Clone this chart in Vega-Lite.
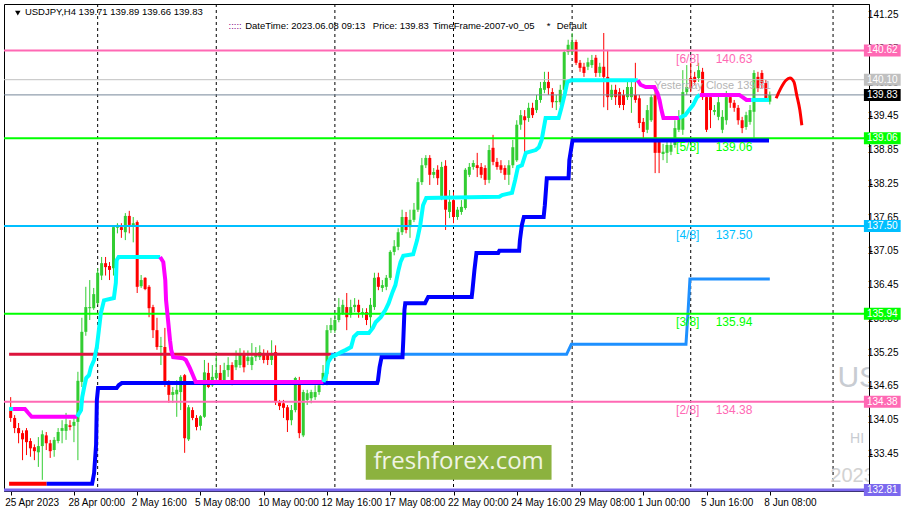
{
"$schema": "https://vega.github.io/schema/vega-lite/v6.json",
"width": 865, "height": 487,
"autosize": {"type": "none"},
"padding": {"left": 4, "top": 4, "right": 42, "bottom": 24},
"background": "white",
"config": {"view": {"stroke": "black", "strokeWidth": 1}, "font": "Liberation Sans", "legend": {"disable": true}, "axis": {"labelOverlap": false}},
"resolve": {"scale": {"color": "independent"}},
"datasets": {
"grid": [{"b":22},{"b":52},{"b":82},{"b":112},{"b":142},{"b":172},{"b":208}],
"yticks": [{"v":133.45},{"v":134.05},{"v":134.65},{"v":135.25},{"v":135.85},{"v":136.45},{"v":137.05},{"v":137.65},{"v":138.25},{"v":138.85},{"v":139.45},{"v":140.05},{"v":140.65},{"v":141.25}],
"candles": [
{"i":0,"o":134.27,"h":134.46,"l":134.02,"c":134.09},{"i":1,"o":134.09,"h":134.14,"l":133.82,"c":133.91},{"i":2,"o":133.91,"h":134.00,"l":133.64,"c":133.82},{"i":3,"o":133.82,"h":133.87,"l":133.34,"c":133.71},{"i":4,"o":133.87,"h":133.91,"l":133.43,"c":133.66},{"i":5,"o":133.68,"h":133.73,"l":133.40,"c":133.55},{"i":6,"o":133.57,"h":133.62,"l":133.34,"c":133.50},{"i":7,"o":133.48,"h":133.75,"l":133.22,"c":133.59},{"i":8,"o":133.59,"h":133.87,"l":132.99,"c":133.80},{"i":9,"o":133.78,"h":133.84,"l":133.52,"c":133.64},
{"i":10,"o":133.64,"h":133.70,"l":133.38,"c":133.50},{"i":11,"o":133.52,"h":133.75,"l":133.40,"c":133.70},{"i":12,"o":133.68,"h":133.91,"l":133.64,"c":133.84},{"i":13,"o":133.86,"h":134.05,"l":133.64,"c":133.91},{"i":14,"o":133.86,"h":134.18,"l":133.70,"c":133.98},{"i":15,"o":133.96,"h":134.05,"l":133.87,"c":133.93},{"i":16,"o":133.95,"h":134.11,"l":133.66,"c":134.02},{"i":17,"o":134.02,"h":134.91,"l":133.34,"c":134.75},{"i":18,"o":134.73,"h":135.87,"l":134.64,"c":135.62},{"i":19,"o":135.62,"h":136.42,"l":135.55,"c":136.06},
{"i":20,"o":136.04,"h":136.54,"l":135.83,"c":136.06},{"i":21,"o":136.04,"h":136.40,"l":136.01,"c":136.29},{"i":22,"o":136.13,"h":136.75,"l":136.10,"c":136.67},{"i":23,"o":136.62,"h":136.95,"l":136.54,"c":136.84},{"i":24,"o":136.84,"h":136.95,"l":136.62,"c":136.77},{"i":25,"o":136.79,"h":136.86,"l":136.54,"c":136.72},{"i":26,"o":136.75,"h":137.50,"l":136.62,"c":137.48},{"i":27,"o":137.47,"h":137.55,"l":137.37,"c":137.52},{"i":28,"o":137.48,"h":137.55,"l":137.29,"c":137.43},{"i":29,"o":137.39,"h":137.73,"l":137.25,"c":137.68},
{"i":30,"o":137.68,"h":137.77,"l":137.37,"c":137.52},{"i":31,"o":137.50,"h":137.66,"l":137.21,"c":137.55},{"i":32,"o":137.57,"h":137.60,"l":136.31,"c":136.42},{"i":33,"o":136.43,"h":136.63,"l":136.40,"c":136.54},{"i":34,"o":136.58,"h":136.59,"l":136.36,"c":136.38},{"i":35,"o":136.42,"h":136.45,"l":135.88,"c":136.04},{"i":36,"o":136.06,"h":136.10,"l":135.51,"c":135.65},{"i":37,"o":135.65,"h":135.87,"l":135.30,"c":135.35},{"i":38,"o":135.35,"h":135.53,"l":135.03,"c":135.37},{"i":39,"o":135.35,"h":135.69,"l":134.64,"c":134.71},
{"i":40,"o":134.71,"h":134.76,"l":134.36,"c":134.50},{"i":41,"o":134.50,"h":134.64,"l":134.36,"c":134.55},{"i":42,"o":134.51,"h":134.76,"l":134.11,"c":134.59},{"i":43,"o":134.55,"h":134.85,"l":134.23,"c":134.82},{"i":44,"o":134.85,"h":134.87,"l":133.47,"c":133.73},{"i":45,"o":133.71,"h":134.32,"l":133.68,"c":134.28},{"i":46,"o":134.23,"h":134.28,"l":134.05,"c":134.09},{"i":47,"o":134.09,"h":134.14,"l":133.87,"c":133.93},{"i":48,"o":133.95,"h":134.14,"l":133.87,"c":134.12},{"i":49,"o":134.11,"h":135.12,"l":134.09,"c":134.90},
{"i":50,"o":134.89,"h":135.07,"l":134.62,"c":134.64},{"i":51,"o":134.67,"h":135.03,"l":134.64,"c":134.82},{"i":52,"o":134.80,"h":135.26,"l":134.76,"c":134.89},{"i":53,"o":134.89,"h":135.03,"l":134.71,"c":134.76},{"i":54,"o":134.73,"h":135.07,"l":134.71,"c":134.94},{"i":55,"o":134.94,"h":135.17,"l":134.82,"c":135.03},{"i":56,"o":135.03,"h":135.08,"l":134.67,"c":134.76},{"i":57,"o":134.99,"h":135.29,"l":134.94,"c":135.12},{"i":58,"o":135.03,"h":135.33,"l":134.98,"c":135.21},{"i":59,"o":135.21,"h":135.29,"l":134.90,"c":134.99},
{"i":60,"o":135.10,"h":135.29,"l":135.03,"c":135.17},{"i":61,"o":135.03,"h":135.42,"l":134.94,"c":135.17},{"i":62,"o":135.17,"h":135.35,"l":135.10,"c":135.24},{"i":63,"o":135.17,"h":135.38,"l":135.12,"c":135.26},{"i":64,"o":135.24,"h":135.31,"l":135.06,"c":135.12},{"i":65,"o":135.21,"h":135.29,"l":135.03,"c":135.12},{"i":66,"o":135.12,"h":135.47,"l":135.03,"c":135.24},{"i":67,"o":135.26,"h":135.38,"l":134.32,"c":134.37},{"i":68,"o":134.37,"h":134.41,"l":134.23,"c":134.30},{"i":69,"o":134.35,"h":134.41,"l":134.09,"c":134.27},
{"i":70,"o":134.28,"h":134.32,"l":133.84,"c":134.05},{"i":71,"o":134.05,"h":134.32,"l":133.96,"c":134.23},{"i":72,"o":134.23,"h":134.82,"l":134.19,"c":134.80},{"i":73,"o":134.76,"h":134.82,"l":133.73,"c":133.82},{"i":74,"o":133.78,"h":134.59,"l":133.75,"c":134.55},{"i":75,"o":134.41,"h":134.59,"l":134.32,"c":134.53},{"i":76,"o":134.44,"h":134.59,"l":134.35,"c":134.55},{"i":77,"o":134.46,"h":134.67,"l":134.41,"c":134.55},{"i":78,"o":134.55,"h":134.76,"l":134.50,"c":134.67},{"i":79,"o":134.71,"h":135.03,"l":134.67,"c":134.89},
{"i":80,"o":134.87,"h":135.74,"l":134.67,"c":135.65},{"i":81,"o":135.65,"h":135.87,"l":135.60,"c":135.74},{"i":82,"o":135.65,"h":135.92,"l":135.60,"c":135.83},{"i":83,"o":135.83,"h":136.22,"l":135.79,"c":136.06},{"i":84,"o":135.95,"h":136.19,"l":135.92,"c":136.10},{"i":85,"o":136.06,"h":136.31,"l":135.65,"c":135.88},{"i":86,"o":135.92,"h":136.19,"l":135.87,"c":136.06},{"i":87,"o":136.06,"h":136.22,"l":135.97,"c":136.10},{"i":88,"o":136.10,"h":136.19,"l":135.87,"c":135.97},{"i":89,"o":135.95,"h":136.04,"l":135.87,"c":135.97},
{"i":90,"o":135.97,"h":136.04,"l":135.74,"c":135.83},{"i":91,"o":135.88,"h":136.22,"l":135.65,"c":136.10},{"i":92,"o":136.06,"h":136.67,"l":136.01,"c":136.58},{"i":93,"o":136.59,"h":136.67,"l":136.36,"c":136.42},{"i":94,"o":136.40,"h":136.54,"l":136.33,"c":136.45},{"i":95,"o":136.42,"h":136.63,"l":136.36,"c":136.58},{"i":96,"o":136.58,"h":137.07,"l":136.54,"c":137.04},{"i":97,"o":137.04,"h":137.25,"l":136.98,"c":137.14},{"i":98,"o":137.13,"h":137.46,"l":137.07,"c":137.39},{"i":99,"o":137.39,"h":137.79,"l":137.34,"c":137.66},
{"i":100,"o":137.66,"h":137.75,"l":137.37,"c":137.43},{"i":101,"o":137.48,"h":137.79,"l":137.29,"c":137.61},{"i":102,"o":137.61,"h":137.91,"l":137.57,"c":137.79},{"i":103,"o":137.79,"h":138.35,"l":137.75,"c":138.28},{"i":104,"o":138.28,"h":138.71,"l":138.23,"c":138.58},{"i":105,"o":138.58,"h":138.76,"l":138.53,"c":138.71},{"i":106,"o":138.71,"h":138.76,"l":138.23,"c":138.41},{"i":107,"o":138.41,"h":138.53,"l":138.35,"c":138.46},{"i":108,"o":138.50,"h":138.58,"l":138.23,"c":138.35},{"i":109,"o":138.02,"h":138.64,"l":137.96,"c":138.55},
{"i":110,"o":138.57,"h":138.67,"l":137.43,"c":137.79},{"i":111,"o":137.75,"h":138.14,"l":137.64,"c":137.93},{"i":112,"o":137.96,"h":138.10,"l":137.55,"c":137.66},{"i":113,"o":137.66,"h":137.84,"l":137.61,"c":137.79},{"i":114,"o":137.75,"h":137.96,"l":137.70,"c":137.84},{"i":115,"o":137.82,"h":138.53,"l":137.79,"c":138.50},{"i":116,"o":138.41,"h":138.62,"l":138.37,"c":138.55},{"i":117,"o":138.55,"h":138.67,"l":138.50,"c":138.62},{"i":118,"o":138.58,"h":138.80,"l":138.37,"c":138.53},{"i":119,"o":138.55,"h":138.62,"l":138.35,"c":138.41},
{"i":120,"o":138.53,"h":138.58,"l":138.23,"c":138.32},{"i":121,"o":138.32,"h":138.94,"l":138.26,"c":138.85},{"i":122,"o":138.89,"h":139.12,"l":138.58,"c":138.64},{"i":123,"o":138.64,"h":138.71,"l":138.50,"c":138.55},{"i":124,"o":138.58,"h":138.67,"l":138.44,"c":138.50},{"i":125,"o":138.53,"h":138.58,"l":138.32,"c":138.41},{"i":126,"o":138.41,"h":138.67,"l":138.23,"c":138.58},{"i":127,"o":138.58,"h":139.03,"l":138.53,"c":138.90},{"i":128,"o":138.67,"h":139.38,"l":138.64,"c":139.30},{"i":129,"o":139.30,"h":139.56,"l":139.21,"c":139.47},
{"i":130,"o":139.45,"h":139.56,"l":138.80,"c":139.38},{"i":131,"o":139.42,"h":139.69,"l":139.35,"c":139.60},{"i":132,"o":139.60,"h":139.69,"l":139.42,"c":139.47},{"i":133,"o":139.56,"h":139.83,"l":139.51,"c":139.74},{"i":134,"o":139.74,"h":140.06,"l":139.69,"c":139.95},{"i":135,"o":139.92,"h":140.24,"l":139.86,"c":140.06},{"i":136,"o":140.06,"h":140.24,"l":139.83,"c":139.95},{"i":137,"o":139.88,"h":139.95,"l":139.60,"c":139.70},{"i":138,"o":139.70,"h":139.83,"l":139.56,"c":139.72},{"i":139,"o":139.70,"h":140.01,"l":139.65,"c":139.92},
{"i":140,"o":139.92,"h":140.63,"l":139.88,"c":140.59},{"i":141,"o":140.59,"h":140.81,"l":140.54,"c":140.72},{"i":142,"o":140.59,"h":140.93,"l":140.54,"c":140.77},{"i":143,"o":140.77,"h":140.81,"l":140.36,"c":140.40},{"i":144,"o":140.40,"h":140.45,"l":140.24,"c":140.31},{"i":145,"o":140.33,"h":140.40,"l":140.15,"c":140.22},{"i":146,"o":140.33,"h":140.49,"l":140.27,"c":140.41},{"i":147,"o":140.36,"h":140.54,"l":140.31,"c":140.45},{"i":148,"o":140.49,"h":140.54,"l":140.15,"c":140.22},{"i":149,"o":140.22,"h":140.40,"l":140.15,"c":140.33},
{"i":150,"o":140.33,"h":140.93,"l":139.61,"c":140.15},{"i":151,"o":140.15,"h":140.63,"l":139.56,"c":139.79},{"i":152,"o":139.79,"h":140.01,"l":139.74,"c":139.92},{"i":153,"o":139.92,"h":140.01,"l":139.65,"c":139.79},{"i":154,"o":139.88,"h":139.95,"l":139.60,"c":139.65},{"i":155,"o":139.83,"h":139.92,"l":139.56,"c":139.65},{"i":156,"o":139.79,"h":140.06,"l":139.74,"c":139.97},{"i":157,"o":139.79,"h":140.06,"l":139.51,"c":139.97},{"i":158,"o":139.83,"h":140.40,"l":139.69,"c":139.74},{"i":159,"o":139.77,"h":139.83,"l":139.24,"c":139.33},
{"i":160,"o":139.35,"h":139.42,"l":139.03,"c":139.17},{"i":161,"o":139.21,"h":139.65,"l":139.15,"c":139.56},{"i":162,"o":139.38,"h":139.83,"l":139.35,"c":139.79},{"i":163,"o":139.83,"h":139.92,"l":138.44,"c":138.80},{"i":164,"o":139.01,"h":139.03,"l":138.44,"c":138.80},{"i":165,"o":138.78,"h":138.96,"l":138.67,"c":138.82},{"i":166,"o":138.80,"h":139.03,"l":138.62,"c":138.94},{"i":167,"o":138.82,"h":139.03,"l":138.76,"c":138.94},{"i":168,"o":138.94,"h":139.38,"l":138.89,"c":139.24},{"i":169,"o":139.21,"h":139.56,"l":139.17,"c":139.42},
{"i":170,"o":139.21,"h":140.27,"l":139.12,"c":139.88},{"i":171,"o":139.88,"h":140.36,"l":139.83,"c":139.97},{"i":172,"o":140.13,"h":140.40,"l":139.88,"c":139.95},{"i":173,"o":140.15,"h":140.24,"l":140.01,"c":140.06},{"i":174,"o":140.13,"h":140.40,"l":140.06,"c":140.27},{"i":175,"o":140.24,"h":140.31,"l":139.74,"c":139.79},{"i":176,"o":139.79,"h":139.83,"l":139.17,"c":139.21},{"i":177,"o":139.79,"h":139.83,"l":139.24,"c":139.56},{"i":178,"o":139.53,"h":139.65,"l":139.47,"c":139.56},{"i":179,"o":139.44,"h":139.83,"l":139.38,"c":139.70},
{"i":180,"o":139.21,"h":139.56,"l":139.15,"c":139.44},{"i":181,"o":139.38,"h":139.90,"l":139.30,"c":139.79},{"i":182,"o":139.79,"h":139.83,"l":139.60,"c":139.69},{"i":183,"o":139.69,"h":139.74,"l":139.53,"c":139.60},{"i":184,"o":139.60,"h":139.65,"l":139.30,"c":139.38},{"i":185,"o":139.38,"h":139.44,"l":139.15,"c":139.24},{"i":186,"o":139.26,"h":139.53,"l":139.21,"c":139.47},{"i":187,"o":139.35,"h":139.65,"l":139.30,"c":139.56},{"i":188,"o":139.53,"h":140.27,"l":139.01,"c":140.22},{"i":189,"o":140.15,"h":140.24,"l":139.88,"c":139.95},
{"i":190,"o":140.22,"h":140.27,"l":139.95,"c":140.04},{"i":191,"o":140.04,"h":140.10,"l":139.74,"c":139.77},{"i":192,"o":139.71,"h":139.89,"l":139.66,"c":139.83}
],
"levels": [
{"name":"6/8","p":140.62,"tag":"[6/8]","val":"140.63"},
{"name":"yc","p":140.10},
{"name":"price","p":139.83},
{"name":"5/8","p":139.06,"tag":"[5/8]","val":"139.06"},
{"name":"4/8","p":137.50,"tag":"[4/8]","val":"137.50"},
{"name":"3/8","p":135.94,"tag":"[3/8]","val":"135.94"},
{"name":"2/8","p":134.38,"tag":"[2/8]","val":"134.38"},
{"name":"bot","p":132.81}
],
"mr": [
{"s":"c","b":-0.4,"p":135.22},{"s":"c","b":81,"p":135.22},
{"s":"d","b":81,"p":135.22},{"s":"d","b":140.6,"p":135.22},{"s":"d","b":141.8,"p":135.40},{"s":"d","b":170.8,"p":135.40},{"s":"d","b":171.3,"p":135.95},{"s":"d","b":171.8,"p":136.56},{"s":"d","b":192,"p":136.56}
],
"bl": [
{"s":"r","b":-0.4,"p":132.92},{"s":"r","b":9.1,"p":132.92},
{"s":"b","b":9.1,"p":132.92},{"s":"b","b":20.6,"p":132.92},{"s":"b","b":21.1,"p":133.11},{"s":"b","b":21.6,"p":133.61},{"s":"b","b":21.8,"p":134.41},{"s":"b","b":22.1,"p":134.62},{"s":"b","b":26.8,"p":134.62},{"s":"b","b":27.3,"p":134.67},{"s":"b","b":28.1,"p":134.71},{"s":"b","b":92.7,"p":134.71},{"s":"b","b":92.9,"p":134.76},{"s":"b","b":93.3,"p":134.99},{"s":"b","b":93.8,"p":135.17},{"s":"b","b":99.1,"p":135.17},{"s":"b","b":99.3,"p":135.47},{"s":"b","b":99.6,"p":136.01},{"s":"b","b":99.8,"p":136.13},{"s":"b","b":104.8,"p":136.13},{"s":"b","b":105.6,"p":136.24},{"s":"b","b":116.6,"p":136.24},{"s":"b","b":116.8,"p":136.36},{"s":"b","b":117.3,"p":136.72},{"s":"b","b":117.8,"p":137.02},{"s":"b","b":123.3,"p":137.02},{"s":"b","b":123.6,"p":137.06},{"s":"b","b":128.6,"p":137.06},{"s":"b","b":128.8,"p":137.25},{"s":"b","b":129.3,"p":137.52},{"s":"b","b":129.8,"p":137.66},{"s":"b","b":134.8,"p":137.66},{"s":"b","b":135.1,"p":137.87},{"s":"b","b":135.6,"p":138.35},{"s":"b","b":141.1,"p":138.35},{"s":"b","b":141.3,"p":138.67},{"s":"b","b":142.1,"p":139.02},{"s":"b","b":191.8,"p":139.02}
],
"st": [
{"s":1,"t":"up","b":-0.4,"p":134.25},{"s":1,"t":"up","b":0.6,"p":134.25},
{"s":2,"t":"dn","b":0.6,"p":134.25},{"s":2,"t":"dn","b":3.6,"p":134.25},{"s":2,"t":"dn","b":4.3,"p":134.19},{"s":2,"t":"dn","b":5.3,"p":134.11},{"s":2,"t":"dn","b":16.8,"p":134.11},
{"s":3,"t":"up","b":16.8,"p":134.11},{"s":3,"t":"up","b":17.8,"p":134.23},{"s":3,"t":"up","b":18.1,"p":134.46},{"s":3,"t":"up","b":18.6,"p":134.64},{"s":3,"t":"up","b":19.1,"p":134.80},{"s":3,"t":"up","b":19.8,"p":134.85},{"s":3,"t":"up","b":20.3,"p":134.99},{"s":3,"t":"up","b":21.1,"p":135.12},{"s":3,"t":"up","b":21.8,"p":135.35},{"s":3,"t":"up","b":22.3,"p":135.65},{"s":3,"t":"up","b":22.8,"p":135.95},{"s":3,"t":"up","b":23.6,"p":136.18},{"s":3,"t":"up","b":26.1,"p":136.22},{"s":3,"t":"up","b":26.6,"p":136.49},{"s":3,"t":"up","b":26.8,"p":136.89},{"s":3,"t":"up","b":27.3,"p":136.95},{"s":3,"t":"up","b":37.8,"p":136.95},
{"s":4,"t":"dn","b":37.8,"p":136.95},{"s":4,"t":"dn","b":38.6,"p":136.86},{"s":4,"t":"dn","b":39.1,"p":136.54},{"s":4,"t":"dn","b":39.3,"p":136.18},{"s":4,"t":"dn","b":39.8,"p":135.83},{"s":4,"t":"dn","b":40.3,"p":135.47},{"s":4,"t":"dn","b":40.6,"p":135.30},{"s":4,"t":"dn","b":41.1,"p":135.17},{"s":4,"t":"dn","b":43.6,"p":135.15},{"s":4,"t":"dn","b":44.3,"p":135.12},{"s":4,"t":"dn","b":45.3,"p":134.98},{"s":4,"t":"dn","b":46.1,"p":134.85},{"s":4,"t":"dn","b":46.8,"p":134.73},{"s":4,"t":"dn","b":79.1,"p":134.73},
{"s":5,"t":"up","b":79.1,"p":134.73},{"s":5,"t":"up","b":79.8,"p":134.85},{"s":5,"t":"up","b":80.3,"p":135.08},{"s":5,"t":"up","b":81.1,"p":135.17},{"s":5,"t":"up","b":82.3,"p":135.21},{"s":5,"t":"up","b":83.6,"p":135.26},{"s":5,"t":"up","b":84.8,"p":135.30},{"s":5,"t":"up","b":86.1,"p":135.35},{"s":5,"t":"up","b":86.8,"p":135.53},{"s":5,"t":"up","b":87.8,"p":135.60},{"s":5,"t":"up","b":90.6,"p":135.60},{"s":5,"t":"up","b":91.6,"p":135.69},{"s":5,"t":"up","b":92.3,"p":135.79},{"s":5,"t":"up","b":93.6,"p":135.88},{"s":5,"t":"up","b":94.8,"p":136.01},{"s":5,"t":"up","b":95.6,"p":136.13},{"s":5,"t":"up","b":96.6,"p":136.33},{"s":5,"t":"up","b":97.3,"p":136.45},{"s":5,"t":"up","b":98.1,"p":136.72},{"s":5,"t":"up","b":98.6,"p":136.86},{"s":5,"t":"up","b":99.3,"p":136.97},{"s":5,"t":"up","b":101.8,"p":137.00},{"s":5,"t":"up","b":102.8,"p":137.25},{"s":5,"t":"up","b":103.6,"p":137.52},{"s":5,"t":"up","b":104.3,"p":137.87},{"s":5,"t":"up","b":105.1,"p":138.00},{"s":5,"t":"up","b":123.6,"p":138.02},{"s":5,"t":"up","b":124.3,"p":138.05},{"s":5,"t":"up","b":126.8,"p":138.09},{"s":5,"t":"up","b":127.6,"p":138.32},{"s":5,"t":"up","b":128.3,"p":138.55},{"s":5,"t":"up","b":129.3,"p":138.58},{"s":5,"t":"up","b":130.3,"p":138.80},{"s":5,"t":"up","b":132.8,"p":138.85},{"s":5,"t":"up","b":133.6,"p":138.90},{"s":5,"t":"up","b":134.3,"p":139.03},{"s":5,"t":"up","b":135.3,"p":139.42},{"s":5,"t":"up","b":138.6,"p":139.42},{"s":5,"t":"up","b":139.3,"p":139.60},{"s":5,"t":"up","b":140.1,"p":139.83},{"s":5,"t":"up","b":140.8,"p":140.06},{"s":5,"t":"up","b":141.8,"p":140.09},{"s":5,"t":"up","b":158.6,"p":140.09},
{"s":6,"t":"dn","b":158.6,"p":140.09},{"s":6,"t":"dn","b":159.3,"p":140.01},{"s":6,"t":"dn","b":160.6,"p":139.97},{"s":6,"t":"dn","b":162.8,"p":139.97},{"s":6,"t":"dn","b":163.6,"p":139.86},{"s":6,"t":"dn","b":164.1,"p":139.74},{"s":6,"t":"dn","b":164.6,"p":139.56},{"s":6,"t":"dn","b":165.1,"p":139.42},{"s":6,"t":"dn","b":169.1,"p":139.42},
{"s":7,"t":"up","b":169.1,"p":139.42},{"s":7,"t":"up","b":170.6,"p":139.47},{"s":7,"t":"up","b":171.6,"p":139.56},{"s":7,"t":"up","b":172.6,"p":139.65},{"s":7,"t":"up","b":173.6,"p":139.79},{"s":7,"t":"up","b":174.3,"p":139.83},
{"s":8,"t":"dn","b":174.3,"p":139.83},{"s":8,"t":"dn","b":184.3,"p":139.83},{"s":8,"t":"dn","b":185.1,"p":139.79},{"s":8,"t":"dn","b":186.1,"p":139.74},{"s":8,"t":"dn","b":187.3,"p":139.74},
{"s":9,"t":"up","b":187.3,"p":139.74},{"s":9,"t":"up","b":191.8,"p":139.74}
],
"proj": [
{"b":193.6,"p":139.77},{"b":194.8,"p":139.95},{"b":196.1,"p":140.09},{"b":197.1,"p":140.13},{"b":198.1,"p":140.06},{"b":198.8,"p":139.83},{"b":199.6,"p":139.56},{"b":200.1,"p":139.29}
]
},
"layer": [
{"data": {"name": "grid"}, "mark": {"type": "rule", "color": "black", "strokeWidth": 1, "strokeDash": [3, 3]},
 "encoding": {"x": {"field": "b", "type": "quantitative", "title": null,
   "scale": {"domain": [-0.425, 215.825], "nice": false, "zero": false},
   "axis": {"orient": "bottom", "values": [0,16,32,48,64,80,96,112,128,144,160,176,192],
     "labelExpr": "{'0':'25 Apr 2023','16':'28 Apr 00:00','32':'2 May 16:00','48':'5 May 08:00','64':'10 May 00:00','80':'12 May 16:00','96':'17 May 08:00','112':'22 May 00:00','128':'24 May 16:00','144':'29 May 08:00','160':'1 Jun 00:00','176':'5 Jun 16:00','192':'8 Jun 08:00'}[datum.value]",
     "labelAlign": "left", "labelAngle": 0, "labelFontSize": 10, "labelColor": "black", "labelFont": "Liberation Sans", "labelOffset": -6,
     "tickSize": 4, "tickColor": "black", "labelPadding": 2, "grid": false, "labelOverlap": false, "labelFlush": false, "domainColor": "black", "title": null}}}},
{"data": {"name": "candles"}, "mark": {"type": "rule", "strokeWidth": 1},
 "encoding": {"x": {"field": "i", "type": "quantitative", "title": null},
   "y": {"field": "l", "type": "quantitative", "title": null,
     "scale": {"domain": [132.792, 141.445], "nice": false, "zero": false},
     "axis": {"orient": "right", "values": [133.45,134.05,134.65,135.25,135.85,136.45,137.05,137.65,138.25,138.85,139.45,140.05,140.65,141.25],
       "labels": false, "tickSize": 3, "tickColor": "black", "grid": false, "domainColor": "black", "title": null}},
   "y2": {"field": "h"},
   "color": {"condition": {"test": "datum.c > datum.o", "value": "#32CD32"}, "value": "#FF0000"}}},
{"data": {"name": "candles"}, "mark": {"type": "bar", "size": 3},
 "encoding": {"x": {"field": "i", "type": "quantitative", "title": null},
   "y": {"field": "o", "type": "quantitative", "title": null}, "y2": {"field": "c"},
   "color": {"condition": {"test": "datum.c > datum.o", "value": "#32CD32"}, "value": "#FF0000"}}},
{"data": {"name": "mr"}, "mark": {"type": "line", "strokeWidth": 3},
 "encoding": {"x": {"field": "b", "type": "quantitative", "title": null}, "y": {"field": "p", "type": "quantitative", "title": null},
   "color": {"field": "s", "type": "nominal", "scale": {"domain": ["c", "d"], "range": ["#DC143C", "#1E90FF"]}}}},
{"data": {"name": "levels"}, "transform": [{"filter": "isValid(datum.tag)"}], "mark": {"type": "rule", "strokeWidth": 2},
 "encoding": {"y": {"field": "p", "type": "quantitative", "title": null},
   "color": {"field": "name", "type": "nominal", "scale": {"domain": ["6/8","5/8","4/8","3/8","2/8"], "range": ["#FF69B4","#00FF00","#00BFFF","#00FF00","#FF69B4"]}}}},
{"data": {"name": "levels"}, "transform": [{"filter": "datum.name == 'yc' || datum.name == 'price'"}], "mark": {"type": "rule", "strokeWidth": 1},
 "encoding": {"y": {"field": "p", "type": "quantitative", "title": null},
   "color": {"field": "name", "type": "nominal", "scale": {"domain": ["yc","price"], "range": ["#C0C0C0","#778899"]}}}},
{"data": {"name": "levels"}, "transform": [{"filter": "datum.name == 'bot'"}], "mark": {"type": "rule", "strokeWidth": 3, "color": "#7B68EE"},
 "encoding": {"y": {"field": "p", "type": "quantitative", "title": null}}},
{"data": {"name": "bl"}, "mark": {"type": "line", "strokeWidth": 4},
 "encoding": {"x": {"field": "b", "type": "quantitative", "title": null}, "y": {"field": "p", "type": "quantitative", "title": null},
   "color": {"field": "s", "type": "nominal", "scale": {"domain": ["r", "b"], "range": ["#FF0000", "#0000FF"]}}}},
{"data": {"name": "st"}, "mark": {"type": "line", "strokeWidth": 4},
 "encoding": {"x": {"field": "b", "type": "quantitative", "title": null}, "y": {"field": "p", "type": "quantitative", "title": null},
   "detail": {"field": "s", "type": "nominal"},
   "color": {"field": "t", "type": "nominal", "scale": {"domain": ["up", "dn"], "range": ["#00FFFF", "#FF00FF"]}}}},
{"data": {"name": "proj"}, "mark": {"type": "line", "strokeWidth": 3, "color": "#FF0000", "interpolate": "monotone"},
 "encoding": {"x": {"field": "b", "type": "quantitative", "title": null}, "y": {"field": "p", "type": "quantitative", "title": null}}},
{"data": {"name": "levels"}, "transform": [{"filter": "isValid(datum.tag)"}], "mark": {"type": "text", "fontSize": 12, "align": "left", "baseline": "middle", "dy": 8.5},
 "encoding": {"x": {"datum": 168.3}, "y": {"field": "p", "type": "quantitative", "title": null}, "text": {"field": "tag"},
   "color": {"field": "name", "type": "nominal", "scale": {"domain": ["6/8","5/8","4/8","3/8","2/8"], "range": ["#FF69B4","#00FF00","#00BFFF","#00FF00","#FF69B4"]}}}},
{"data": {"name": "levels"}, "transform": [{"filter": "isValid(datum.tag)"}], "mark": {"type": "text", "fontSize": 12, "align": "left", "baseline": "middle", "dy": 8.5},
 "encoding": {"x": {"datum": 178.3}, "y": {"field": "p", "type": "quantitative", "title": null}, "text": {"field": "val"},
   "color": {"field": "name", "type": "nominal", "scale": {"domain": ["6/8","5/8","4/8","3/8","2/8"], "range": ["#FF69B4","#00FF00","#00BFFF","#00FF00","#FF69B4"]}}}},
{"data": {"values": [{}]}, "mark": {"type": "text", "fontSize": 11, "align": "left", "baseline": "middle", "color": "#B4B4B4", "text": "Yesterday Close 139.81"},
 "encoding": {"x": {"datum": 162.8}, "y": {"datum": 139.99}}},
{"data": {"name": "yticks"}, "mark": {"type": "text", "fontSize": 10, "align": "left", "baseline": "middle", "color": "black"},
 "encoding": {"x": {"datum": 216.8}, "y": {"field": "v", "type": "quantitative", "title": null}, "text": {"field": "v", "type": "quantitative", "format": ".2f"}}},
{"data": {"name": "levels"}, "mark": {"type": "rect", "height": 12},
 "encoding": {"x": {"datum": 215.8}, "x2": {"datum": 225.1}, "y": {"field": "p", "type": "quantitative", "title": null},
   "color": {"condition": {"test": "datum.name == 'price'", "value": "#000000"}, "field": "name", "type": "nominal",
     "scale": {"domain": ["6/8","yc","price","5/8","4/8","3/8","2/8","bot"], "range": ["#FF69B4","#C0C0C0","#000000","#00FF00","#00BFFF","#00FF00","#FF69B4","#7B68EE"]}}}},
{"data": {"name": "levels"}, "mark": {"type": "text", "fontSize": 10, "align": "center", "baseline": "middle", "color": "white"},
 "encoding": {"x": {"datum": 220.45}, "y": {"field": "p", "type": "quantitative", "title": null}, "text": {"field": "p", "type": "quantitative", "format": ".2f"}}},
{"data": {"values": [{}]}, "mark": {"type": "rect", "color": "#8CB23F"},
 "encoding": {"x": {"datum": 89.8}, "x2": {"datum": 136.8}, "y": {"datum": 133.61}, "y2": {"datum": 132.99}}},
{"data": {"values": [{}]}, "mark": {"type": "text", "fontSize": 24, "font": "Open Sans", "align": "center", "baseline": "middle", "color": "#F0F4E4", "text": "freshforex.com"},
 "encoding": {"x": {"datum": 113.3}, "y": {"datum": 133.31}}},
{"data": {"values": [{}]}, "mark": {"type": "point", "shape": "triangle-down", "filled": true, "size": 30, "color": "black", "opacity": 1},
 "encoding": {"x": {"datum": 1.8}, "y": {"datum": 141.285}}},
{"data": {"values": [{}]}, "mark": {"type": "text", "fontSize": 9.5, "align": "left", "baseline": "middle", "color": "black", "text": "USDJPY,H4  139.71 139.89 139.66 139.83"},
 "encoding": {"x": {"datum": 3.6}, "y": {"datum": 141.30}}},
{"data": {"values": [{}]}, "mark": {"type": "text", "fontSize": 9.5, "align": "left", "baseline": "middle", "color": "#800080", "text": ":::::"},
 "encoding": {"x": {"datum": 55.1}, "y": {"datum": 141.05}}},
{"data": {"values": [{}]}, "mark": {"type": "text", "fontSize": 9.5, "align": "left", "baseline": "middle", "color": "black", "text": "DateTime: 2023.06.08 09:13"},
 "encoding": {"x": {"datum": 59.3}, "y": {"datum": 141.05}}},
{"data": {"values": [{}]}, "mark": {"type": "text", "fontSize": 9.5, "align": "left", "baseline": "middle", "color": "black", "text": "Price: 139.83"},
 "encoding": {"x": {"datum": 91.6}, "y": {"datum": 141.05}}},
{"data": {"values": [{}]}, "mark": {"type": "text", "fontSize": 9.5, "align": "left", "baseline": "middle", "color": "black", "text": "TimeFrame-2007-v0_05"},
 "encoding": {"x": {"datum": 106.8}, "y": {"datum": 141.05}}},
{"data": {"values": [{}]}, "mark": {"type": "text", "fontSize": 9.5, "align": "left", "baseline": "middle", "color": "black", "text": "*"},
 "encoding": {"x": {"datum": 135.6}, "y": {"datum": 141.05}}},
{"data": {"values": [{}]}, "mark": {"type": "text", "fontSize": 9.5, "align": "left", "baseline": "middle", "color": "black", "text": "Default"},
 "encoding": {"x": {"datum": 138.1}, "y": {"datum": 141.05}}},
{"data": {"values": [{}]}, "mark": {"type": "text", "fontSize": 30, "align": "left", "baseline": "alphabetic", "color": "#C8CCD2", "text": "US", "clip": true},
 "encoding": {"x": {"datum": 209.1}, "y": {"datum": 134.64}}},
{"data": {"values": [{}]}, "mark": {"type": "text", "fontSize": 14, "align": "left", "baseline": "alphabetic", "color": "#C8CCD2", "text": "HI", "clip": true},
 "encoding": {"x": {"datum": 212.3}, "y": {"datum": 133.64}}},
{"data": {"values": [{}]}, "mark": {"type": "text", "fontSize": 20, "align": "left", "baseline": "alphabetic", "color": "#D2D2D2", "text": "2023", "clip": true},
 "encoding": {"x": {"datum": 207.3}, "y": {"datum": 132.95}}}
]
}
